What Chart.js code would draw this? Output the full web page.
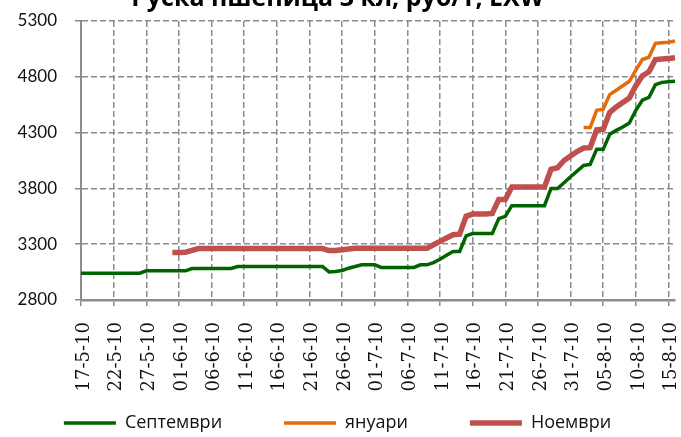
<!DOCTYPE html>
<html>
<head>
<meta charset="utf-8">
<script src="https://cdn.jsdelivr.net/npm/chart.js@4"></script>
<style>
    html, body { margin: 0; padding: 0; background: #fff; overflow: hidden; }
    #wrap { position: relative; width: 681px; height: 453px; margin-top: -16px; }
</style>
</head>
<body>
<div id="wrap"><canvas id="chart"></canvas></div>
<script>
// Данни
const titleText = 'Руска пшеница 3 кл, руб/т, EXW';

const dates = [
    '17-5-10', '18-5-10', '19-5-10', '20-5-10', '21-5-10', '22-5-10', '23-5-10', '24-5-10',
    '25-5-10', '26-5-10', '27-5-10', '28-5-10', '29-5-10', '30-5-10', '31-5-10',
    '01-6-10', '02-6-10', '03-6-10', '04-6-10', '05-6-10', '06-6-10', '07-6-10', '08-6-10',
    '09-6-10', '10-6-10', '11-6-10', '12-6-10', '13-6-10', '14-6-10', '15-6-10', '16-6-10',
    '17-6-10', '18-6-10', '19-6-10', '20-6-10', '21-6-10', '22-6-10', '23-6-10', '24-6-10',
    '25-6-10', '26-6-10', '27-6-10', '28-6-10', '29-6-10', '30-6-10',
    '01-7-10', '02-7-10', '03-7-10', '04-7-10', '05-7-10', '06-7-10', '07-7-10', '08-7-10',
    '09-7-10', '10-7-10', '11-7-10', '12-7-10', '13-7-10', '14-7-10', '15-7-10', '16-7-10',
    '17-7-10', '18-7-10', '19-7-10', '20-7-10', '21-7-10', '22-7-10', '23-7-10', '24-7-10',
    '25-7-10', '26-7-10', '27-7-10', '28-7-10', '29-7-10', '30-7-10', '31-7-10',
    '01-8-10', '02-8-10', '03-8-10', '04-8-10', '05-8-10', '06-8-10', '07-8-10', '08-8-10',
    '09-8-10', '10-8-10', '11-8-10', '12-8-10', '13-8-10', '14-8-10', '15-8-10', '16-8-10'
];

const xTickLabels = [
    '17-5-10', '22-5-10', '27-5-10', '01-6-10', '06-6-10', '11-6-10', '16-6-10',
    '21-6-10', '26-6-10', '01-7-10', '06-7-10', '11-7-10', '16-7-10', '21-7-10',
    '26-7-10', '31-7-10', '05-8-10', '10-8-10', '15-8-10'
];

const yMin = 2800;
const yMax = 5300;
const yStep = 500;

// Септември - от 17-5-10
const septemberStart = '17-5-10';
const septemberValues = [
    3040, 3040, 3040, 3040, 3040, 3040, 3040, 3040, 3040, 3040,
    3061, 3061, 3061, 3061, 3061, 3061, 3061,
    3082, 3082, 3082, 3082, 3082, 3082, 3082,
    3100, 3100, 3100, 3100, 3100, 3100, 3100, 3100, 3100, 3100, 3100, 3100, 3100, 3100,
    3052, 3055, 3065, 3085, 3100, 3115, 3115, 3115,
    3092, 3092, 3092, 3092, 3092, 3092, 3115, 3115,
    3135, 3165, 3200, 3235, 3235, 3375, 3395, 3395, 3395, 3395, 3530, 3550,
    3645, 3645, 3645, 3645, 3645, 3645, 3798, 3798,
    3850, 3905, 3955, 4005, 4014, 4150, 4150, 4285, 4320, 4350, 4385,
    4500, 4590, 4615, 4730, 4750, 4755, 4760
];

// януари - от 02-8-10
const januaryStart = '02-8-10';
const januaryValues = [
    4345, 4345, 4500, 4510, 4640, 4680, 4720, 4760, 4860, 4955, 4975, 5100, 5105, 5110, 5120
];

// Ноември - от 31-5-10
const novemberStart = '31-5-10';
const novemberValues = [
    3225, 3225, 3228, 3245,
    3261, 3261, 3261, 3261, 3261, 3261, 3261, 3261, 3261, 3261,
    3261, 3261, 3261, 3261, 3261, 3261, 3261, 3261, 3261, 3261,
    3243, 3243, 3250, 3256,
    3263, 3263, 3263, 3263, 3263, 3263, 3263, 3263, 3263, 3263, 3263, 3263,
    3295, 3325, 3355, 3385, 3390, 3550, 3570, 3570, 3570, 3575, 3700, 3700,
    3813, 3813, 3813, 3813, 3813, 3813,
    3970, 3985, 4050, 4090, 4130, 4162, 4165, 4325, 4330, 4480,
    4530, 4570, 4610, 4720, 4810, 4845, 4955, 4960, 4965, 4970
];

// Стилове
const gridColor = '#8c8c8c';
const axisColor = '#8c8c8c';
const textColor = '#111';
const legendGap = 62;      // разстояние между елементите на легендата
const legendHeight = 37;

// подравняване на серия към датите
function alignSeries(startDate, values) {
    const start = dates.indexOf(startDate);
    return dates.map((d, i) => (i >= start && i - start < values.length) ? values[i - start] : null);
}

function isLabelled(index) {
    return xTickLabels.includes(dates[index]);
}

// легендата ползва padding и за хоризонталния отстъп - връщаме я нагоре
const legendShift = {
    id: 'legendShift',
    afterUpdate(chart) {
        const legend = chart.legend;
        if (!legend) return;
        legend.top -= legendGap - 14;
    }
};

const ctx = document.getElementById('chart').getContext('2d');

new Chart(ctx, {
    type: 'line',
    data: {
        labels: dates,
        datasets: [
            {
                label: 'Септември',
                data: alignSeries(septemberStart, septemberValues),
                borderColor: '#006400',
                backgroundColor: '#006400',
                borderWidth: 3.5,
                pointRadius: 0,
                tension: 0
            },
            {
                label: 'януари',
                data: alignSeries(januaryStart, januaryValues),
                borderColor: '#e46c0a',
                backgroundColor: '#e46c0a',
                borderWidth: 3.5,
                pointRadius: 0,
                tension: 0
            },
            {
                label: 'Ноември',
                data: alignSeries(novemberStart, novemberValues),
                borderColor: '#c0504d',
                backgroundColor: '#c0504d',
                borderWidth: 5.5,
                pointRadius: 0,
                tension: 0
            }
        ]
    },
    plugins: [legendShift],
    options: {
        responsive: true,
        maintainAspectRatio: false,
        animation: false,
        layout: {
            padding: { left: 0, right: 6, top: 0, bottom: 0 }
        },
        plugins: {
            title: {
                display: true,
                text: titleText,
                color: '#000',
                font: { family: 'Open Sans', size: 25, weight: 'bold' },
                padding: { top: 0, bottom: 7 }
            },
            legend: {
                position: 'bottom',
                maxHeight: legendHeight,
                labels: {
                    usePointStyle: true,
                    pointStyle: 'line',
                    pointStyleWidth: 52,
                    color: textColor,
                    font: { family: 'Open Sans', size: 18 },
                    padding: legendGap
                }
            },
            tooltip: { enabled: false }
        },
        scales: {
            x: {
                type: 'category',
                offset: false,
                afterFit: scale => {
                    scale.height = 100;
                    scale.paddingLeft = 0;
                    scale.paddingRight = 0;
                },
                border: { color: axisColor, width: 2.5, dash: [6, 3] },
                grid: {
                    color: c => isLabelled(c.index) ? gridColor : 'transparent',
                    tickColor: c => isLabelled(c.index) ? gridColor : 'transparent',
                    lineWidth: 1.5,
                    tickLength: 6,
                    tickBorderDash: []
                },
                ticks: {
                    autoSkip: false,
                    maxRotation: 90,
                    minRotation: 90,
                    labelOffset: 3,
                    padding: 16,
                    color: textColor,
                    font: { family: 'DejaVu Serif', size: 18 },
                    callback: function (value, index) {
                        return isLabelled(index) ? dates[index] : '';
                    }
                }
            },
            y: {
                min: yMin,
                max: yMax,
                afterFit: scale => { scale.width = 81; },
                border: { color: axisColor, width: 2, dash: [6, 3] },
                grid: {
                    color: gridColor,
                    lineWidth: 1.5,
                    tickLength: 6,
                    tickBorderDash: []
                },
                ticks: {
                    stepSize: yStep,
                    padding: 18,
                    color: textColor,
                    font: { family: 'Lato', size: 17 },
                    callback: value => String(value)
                }
            }
        }
    }
});
</script>
</body>
</html>
